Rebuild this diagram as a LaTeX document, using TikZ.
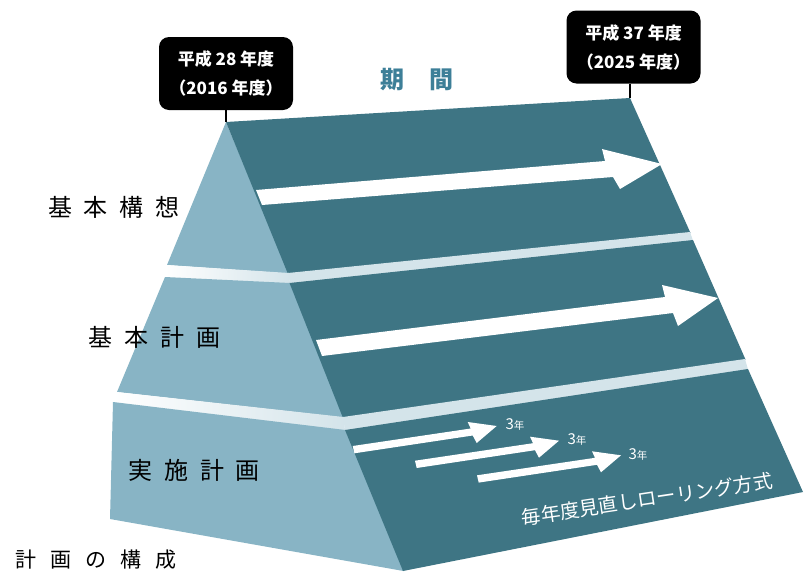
\documentclass[tikz,border=0pt]{standalone}
\usepackage{fontspec}
\newfontfamily\jp{Noto Sans CJK JP}
\definecolor{lightface}{HTML}{88B4C5}
\definecolor{darkface}{HTML}{3E7584}
\definecolor{bandcol}{HTML}{D4E4EA}
\definecolor{titlecol}{HTML}{3D7F98}
\tikzset{
  yearbox/.style={fill=black, rounded corners=10pt, text=white, align=center,
    minimum width=134pt, minimum height=73pt, inner sep=0pt,
    font=\jp\bfseries\fontsize{17}{29}\selectfont},
  sidelabel/.style={inner sep=0pt, text=black},
  tick/.style={line width=1.3pt, black},
  smalllabel/.style={inner sep=0pt, text=white, font=\jp\fontsize{15}{15}\selectfont}
}
\begin{document}
\begin{tikzpicture}[x=1pt,y=-1pt]
\useasboundingbox (0,0) rectangle (812,576);
% key points
\coordinate (apex) at (226,122);
\coordinate (tr) at (630,98);
% top tier
\fill[lightface] (apex) -- (167,265) -- (289,273.5) -- cycle;
\fill[darkface] (apex) -- (tr) -- (690.5,233) -- (288,274) -- cycle;
% band 1
\fill[bandcol] (288,273) -- (690,232) -- (693,240.5) -- (290,283.5) -- cycle;
\shade[left color=white, middle color=bandcol, right color=bandcol]
  (167,265) -- (289,273) -- (290,283.5) -- (165,277) -- cycle;
% middle tier
\fill[lightface] (165,277) -- (117,392) -- (343.5,417.5) -- (290,283) -- cycle;
\fill[darkface] (289.5,283) -- (693,240) -- (745.5,359.5) -- (343,418) -- cycle;
% band 2
\fill[bandcol] (343,417) -- (745,359) -- (748,369.5) -- (345,430.5) -- cycle;
\shade[left color=white, middle color=bandcol, right color=bandcol]
  (117,392) -- (343.5,417) -- (345,430.5) -- (113,402) -- cycle;
% bottom tier
\fill[lightface] (113,402) -- (110,519) -- (403.5,571) -- (345.5,430) -- cycle;
\fill[darkface] (345,430) -- (748,369) -- (803,492) -- (403,571) -- cycle;

% arrows
\coordinate (t1) at (662,164);
\coordinate (t2) at (718,298);
\fill[white, shift={(t1)}] (-406,26) -- (-57,-3) -- (-60,-15) -- (0,0) -- (-42,25) -- (-49,13) -- (-400,41) -- cycle;
\fill[white, shift={(t2)}] (-402,42) -- (-53,-1) -- (-56,-13) -- (0,0) -- (-40,28) -- (-45,15) -- (-396,58) -- cycle;
\coordinate (s1) at (496.7,426);
\coordinate (s2) at (559,440.7);
\coordinate (s3) at (621,455.3);
\foreach \s in {s1,s2,s3}{
  \fill[white, shift={(\s)}] (-144,20) -- (-26,2.5) -- (-29,-4) -- (0,0) -- (-20,17) -- (-24,9.5) -- (-142.3,27.3) -- cycle;
}
\node[smalllabel] (l1) at (515,424) {3{\fontsize{10.5}{10.5}\selectfont 年}};
\node[smalllabel] (l2) at (577,439) {3{\fontsize{10.5}{10.5}\selectfont 年}};
\node[smalllabel] (l3) at (638,454) {3{\fontsize{10.5}{10.5}\selectfont 年}};

\node[inner sep=0pt, text=white, rotate=8.5, font=\jp\fontsize{19.5}{19.5}\selectfont] (roll) at (647,499) {毎年度見直しローリング方式};

% year boxes
\node[yearbox] (b1) at (226,73.5) {平成 28 年度\\（2016 年度）};
\node[yearbox] (b2) at (633.5,47) {平成 37 年度\\（2025 年度）};
\draw[tick] (b1.south) -- (apex);
\draw[tick] (tr |- b2.south) -- (tr);

\node[inner sep=0pt, text=titlecol, font=\jp\bfseries\fontsize{24}{24}\selectfont] (kikan) at (417,80) {期\hspace{26pt}間};

% side labels
\node[sidelabel, font=\jp\fontsize{24}{24}\selectfont] (k1) at (114,207) {基\hspace{12pt}本\hspace{12pt}構\hspace{12pt}想};
\node[sidelabel, font=\jp\fontsize{24}{24}\selectfont] (k2) at (154.5,337) {基\hspace{12pt}本\hspace{12pt}計\hspace{12pt}画};
\node[sidelabel, font=\jp\fontsize{24}{24}\selectfont] (k3) at (194,470) {実\hspace{12pt}施\hspace{12pt}計\hspace{12pt}画};
\node[sidelabel, font=\jp\fontsize{21}{21}\selectfont] (k4) at (96,560) {計\hspace{14pt}画\hspace{14pt}の\hspace{14pt}構\hspace{14pt}成};
\end{tikzpicture}
\end{document}
